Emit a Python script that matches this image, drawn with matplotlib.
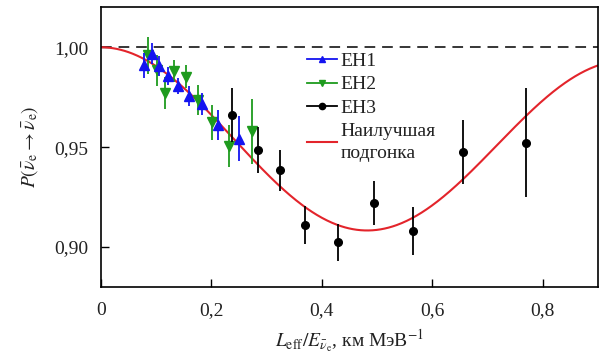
import numpy as np
import matplotlib
matplotlib.use('Agg')
import matplotlib.pyplot as plt
from matplotlib.lines import Line2D
from matplotlib.ticker import FuncFormatter

plt.rcParams['font.family'] = ['Liberation Serif', 'DejaVu Serif']
plt.rcParams['mathtext.fontset'] = 'stix'

# EH1 (blue, triangles up)
eh1_x = [0.078, 0.093, 0.106, 0.121, 0.140, 0.160, 0.183, 0.213, 0.251]
eh1_p = [0.9909, 0.9967, 0.9905, 0.9855, 0.9805, 0.9757, 0.9716, 0.9612, 0.9542]
eh1_err = [0.0063, 0.0052, 0.0050, 0.0045, 0.0041, 0.0050, 0.0054, 0.0074, 0.0113]

# EH2 (green, triangles down)
eh2_x = [0.086, 0.102, 0.116, 0.133, 0.154, 0.177, 0.201, 0.233, 0.274]
eh2_p = [0.9959, 0.9885, 0.9772, 0.9880, 0.9852, 0.9736, 0.9624, 0.9508, 0.9579]
eh2_err = [0.0091, 0.0078, 0.0081, 0.0055, 0.0058, 0.0074, 0.0087, 0.0105, 0.0163]

# EH3 (black, circles)
eh3_x = [0.238, 0.285, 0.325, 0.370, 0.429, 0.495, 0.565, 0.655, 0.770]
eh3_p = [0.9662, 0.9485, 0.9385, 0.9112, 0.9023, 0.9221, 0.9079, 0.9475, 0.9523]
eh3_err = [0.0136, 0.0115, 0.0103, 0.0095, 0.0091, 0.0110, 0.0119, 0.0159, 0.0274]

# best fit oscillation parameters
sin2_2th13 = 0.090
dm2_ee = 2.59e-3      # eV^2
sin2_2th12 = 0.81     # incl. cos^4(theta13)
dm2_21 = 7.53e-5      # eV^2

fit_x = np.linspace(0, 0.9, 500)
fit_p = (1 - sin2_2th13 * np.sin(1267 * dm2_ee * fit_x) ** 2
         - sin2_2th12 * np.sin(1267 * dm2_21 * fit_x) ** 2)

blue = '#1414f0'
green = '#1e9b1e'
red = '#e3242b'

fig = plt.figure(figsize=(5.99, 3.56), dpi=100)
ax = fig.add_axes([0.1681, 0.1938, 0.8302, 0.7857])

ax.axhline(1.0, color='k', lw=1.1, ls=(0, (7, 4.5)), zorder=1)
ax.plot(fit_x, fit_p, color=red, lw=1.5, zorder=2)

ax.errorbar(eh1_x, eh1_p, yerr=eh1_err, fmt='^', color=blue, ms=6.5,
            elinewidth=1.3, capsize=0, zorder=4)
ax.errorbar(eh2_x, eh2_p, yerr=eh2_err, fmt='v', color=green, ms=6.5,
            elinewidth=1.3, capsize=0, zorder=3)
ax.errorbar(eh3_x, eh3_p, yerr=eh3_err, fmt='o', color='k', ms=5.5,
            elinewidth=1.3, capsize=0, zorder=5)

ax.set_xlim(0, 0.9)
ax.set_ylim(0.88, 1.02)
ax.set_xticks([0, 0.2, 0.4, 0.6, 0.8])
ax.set_yticks([0.90, 0.95, 1.00])
ax.xaxis.set_major_formatter(FuncFormatter(
    lambda v, p: '0' if v == 0 else f'{v:.1f}'.replace('.', ',')))
ax.yaxis.set_major_formatter(FuncFormatter(
    lambda v, p: f'{v:.2f}'.replace('.', ',')))
ax.tick_params(direction='in', length=6, width=1, labelsize=14, pad=9,
               colors='k', labelcolor='#222222')
ax.tick_params(axis='x', pad=11)
for s in ax.spines.values():
    s.set_linewidth(1.2)

ax.set_xlabel(r'$L_{\rm eff}/E_{\bar{\nu}_{\rm e}}$, км МэВ$^{-1}$',
              fontsize=14, color='#222222', labelpad=6)
ax.set_ylabel(r'$P(\bar{\nu}_{\rm e} \rightarrow \bar{\nu}_{\rm e})$',
              fontsize=14, color='#222222', labelpad=10)

handles = [
    Line2D([], [], color=blue, marker='^', ms=5, lw=1.3),
    Line2D([], [], color=green, marker='v', ms=5, lw=1.3),
    Line2D([], [], color='k', marker='o', ms=4.5, lw=1.3),
    Line2D([], [], color=red, lw=1.5),
]
labels = ['EH1', 'EH2', 'EH3', 'Наилучшая\nподгонка']
leg = ax.legend(handles, labels, loc='upper left', bbox_to_anchor=(0.4, 0.867),
                frameon=False, fontsize=14, handlelength=1.5, handletextpad=0.2,
                labelspacing=0.3, borderaxespad=0)
for t in leg.get_texts():
    t.set_color('#222222')
    t.set_linespacing(1.45)

fig.savefig('out.png', dpi=100)
